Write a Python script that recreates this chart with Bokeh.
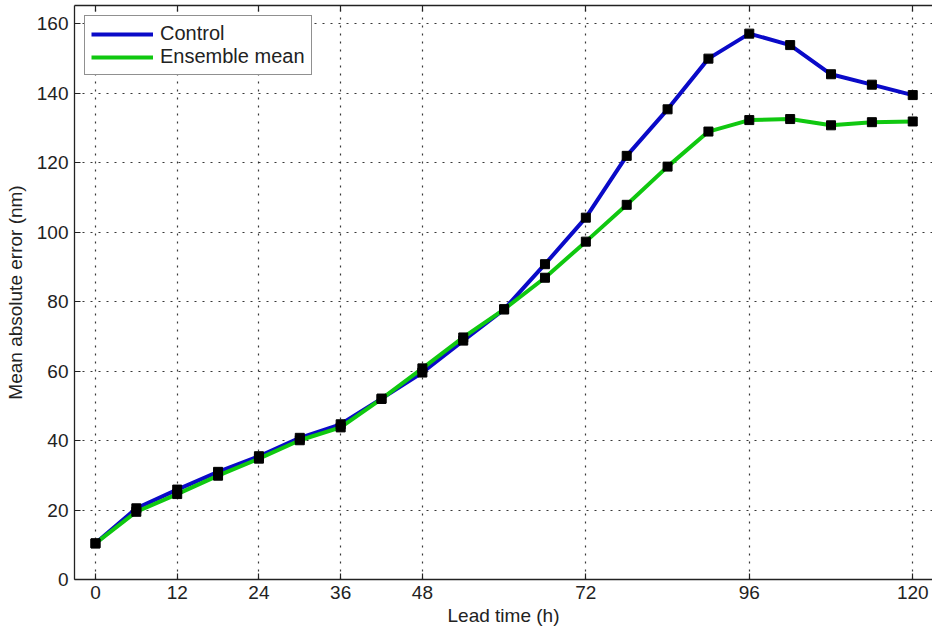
from bokeh.plotting import figure
from bokeh.models import (FixedTicker, LinearAxis, Range1d, Legend, LegendItem,
                          CustomJSTickFormatter)
from bokeh.embed import file_html
from bokeh.resources import INLINE

lead_time = [0, 6, 12, 18, 24, 30, 36, 42, 48, 54, 60, 66, 72, 78, 84, 90, 96, 102, 108, 114, 120]
control = [10.4, 20.5, 25.9, 31.0, 35.5, 40.8, 44.7, 52.1, 59.6, 68.8, 77.8, 90.8, 104.2,
           122.0, 135.4, 150.0, 157.2, 153.9, 145.5, 142.5, 139.5]
ensemble_mean = [10.4, 19.5, 24.6, 29.9, 34.8, 40.1, 43.8, 52.0, 60.8, 69.7, 77.8, 86.9, 97.3,
                 107.9, 118.9, 129.0, 132.3, 132.6, 130.8, 131.7, 131.9]
x_ticks = [0, 12, 24, 36, 48, 72, 96, 120]
y_ticks = [0, 20, 40, 60, 80, 100, 120, 140, 160]

FONT = "Liberation Sans"
INK = "#222222"

p = figure(width=932, height=633, output_backend="svg", toolbar_location=None,
           x_range=Range1d(-3.08, 122.9), y_range=Range1d(0, 165.3),
           min_border_left=74, min_border_right=0, min_border_top=5, min_border_bottom=54)
p.background_fill_color = "white"
p.border_fill_color = "white"
p.outline_line_color = None

for ax in (p.xaxis[0], p.yaxis[0]):
    ax.major_tick_in = 6
    ax.major_tick_out = 0
    ax.minor_tick_line_color = None
    ax.axis_line_color = INK
    ax.axis_line_width = 1.3
    ax.major_tick_line_color = INK
    ax.major_tick_line_width = 1.2
    ax.major_label_text_font = FONT
    ax.major_label_text_font_size = "19px"
    ax.major_label_text_color = INK
    ax.axis_label_text_font = FONT
    ax.axis_label_text_font_size = "19px"
    ax.axis_label_text_font_style = "normal"
    ax.axis_label_text_color = INK

p.xaxis.ticker = FixedTicker(ticks=x_ticks)
p.yaxis.ticker = FixedTicker(ticks=y_ticks)
p.xaxis.axis_label = "Lead time (h)"
p.yaxis.axis_label = "Mean absolute error (nm)"
p.xaxis.major_label_standoff = 6
p.xaxis.axis_label_standoff = 3
p.yaxis.major_label_standoff = 6
p.yaxis.axis_label_standoff = 8

top = LinearAxis(ticker=FixedTicker(ticks=x_ticks), major_tick_in=6, major_tick_out=0,
                 minor_tick_line_color=None,
                 formatter=CustomJSTickFormatter(code="return ''"),
                 major_label_standoff=0,
                 axis_line_color=INK, axis_line_width=1.3,
                 major_tick_line_color=INK, major_tick_line_width=1.2)
p.add_layout(top, "above")

for g in (p.xgrid[0], p.ygrid[0]):
    g.grid_line_color = INK
    g.grid_line_dash = "2 6"
    g.grid_line_width = 1.2
    g.grid_line_alpha = 0.9

l1 = p.line(lead_time, control, line_color="#0a0ac8", line_width=4)
l2 = p.line(lead_time, ensemble_mean, line_color="#10c810", line_width=4)
p.scatter(lead_time, control, marker="square", size=9, fill_color="black", line_color="black")
p.scatter(lead_time, ensemble_mean, marker="square", size=9, fill_color="black", line_color="black")

legend = Legend(items=[LegendItem(label="Control", renderers=[l1]),
                       LegendItem(label="Ensemble mean", renderers=[l2])],
                location="top_left")
legend.margin = 10
legend.padding = 6
legend.spacing = 0
legend.glyph_width = 62
legend.glyph_height = 22
legend.label_standoff = 7
legend.label_text_font = FONT
legend.label_text_font_size = "20px"
legend.label_text_color = INK
legend.border_line_color = INK
legend.border_line_width = 1.2
legend.background_fill_alpha = 1.0
p.add_layout(legend)

open("out.html", "w").write(file_html(p, INLINE))
